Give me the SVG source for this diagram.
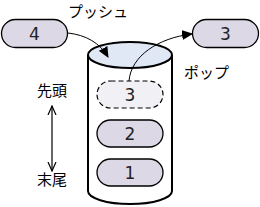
<svg xmlns="http://www.w3.org/2000/svg" width="260" height="207" viewBox="0 0 260 207">
<style>
.pill{fill:#dcd8e6;stroke:#000;stroke-width:1.3}
.ghost{fill:#f1f1f5;stroke:#000;stroke-width:1.2;stroke-dasharray:5 3}
.num{font-family:"DejaVu Sans",sans-serif;font-size:17px;text-anchor:middle;fill:#222}
.jp{font-family:"Noto Sans CJK JP",sans-serif;font-size:15px;fill:#000}
.conn{fill:none;stroke:#000;stroke-width:1}
</style>
<defs>
<marker id="ah" viewBox="0 0 10 10" refX="9" refY="5" markerWidth="11" markerHeight="11" markerUnits="userSpaceOnUse" orient="auto">
<path d="M0,0.5 L10,5 L0,9.5 z" fill="#000"/>
</marker>
<marker id="open" viewBox="0 0 10 10" refX="9" refY="5" markerWidth="10" markerHeight="10" markerUnits="userSpaceOnUse" orient="auto-start-reverse">
<path d="M0,1 L9,5 L0,9" fill="none" stroke="#000" stroke-width="1.2"/>
</marker>
</defs>
<g id="stack">
<path d="M88,55 L88,191 A42,13 0 0 0 172,191 L172,55" fill="#fff" stroke="#000" stroke-width="2"/>
<ellipse cx="130" cy="55" rx="42" ry="13" fill="#e0e8f6" stroke="#000" stroke-width="2"/>
</g>
<g id="item3">
<rect class="ghost" x="97" y="81" width="66" height="27" rx="13.5"/>
<text class="num" x="130" y="101">3</text>
</g>
<g id="item2">
<rect class="pill" x="97" y="120" width="66" height="27" rx="13.5"/>
<text class="num" x="130" y="140">2</text>
</g>
<g id="item1">
<rect class="pill" x="97" y="159" width="66" height="27" rx="13.5"/>
<text class="num" x="130" y="179">1</text>
</g>
<g id="push-item">
<rect class="pill" x="1.5" y="19.5" width="66" height="28" rx="14"/>
<text class="num" x="34.5" y="40">4</text>
</g>
<g id="pop-item">
<rect class="pill" x="192.5" y="19.5" width="66" height="28" rx="14"/>
<text class="num" x="225.5" y="40">3</text>
</g>
<g id="labels">
<text class="jp" x="68" y="17">プッシュ</text>
<text class="jp" x="184" y="78">ポップ</text>
<text class="jp" x="37" y="96">先頭</text>
<text class="jp" x="37" y="185">末尾</text>
</g>
<g id="connectors">
<path class="conn" d="M68,33 C86,35 100,43 108,57" marker-end="url(#ah)"/>
<path class="conn" d="M129,81 C131,56 158,38 192,34" marker-end="url(#ah)"/>
<path class="conn" d="M52,106 L52,171" marker-start="url(#open)" marker-end="url(#open)" style="stroke-width:1.2"/>
</g>
</svg>
